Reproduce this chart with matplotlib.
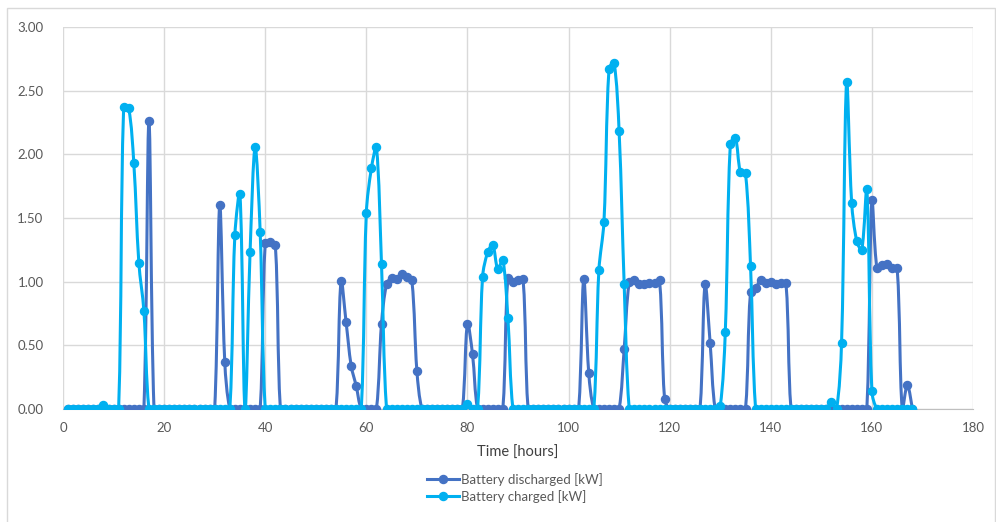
import numpy as np
import matplotlib.pyplot as plt
from matplotlib.path import Path
from matplotlib.patches import PathPatch, Rectangle
from matplotlib.lines import Line2D

plt.rcParams['font.family'] = ['Lato', 'DejaVu Sans']

# hours 1..168
hours = np.arange(1, 169)

# non-zero values, everything else is 0
discharged_nz = {
    17: 2.26,
    31: 1.60, 32: 0.37,
    40: 1.30, 41: 1.31, 42: 1.29,
    55: 1.005, 56: 0.68, 57: 0.34, 58: 0.18,
    63: 0.67, 64: 0.98, 65: 1.03, 66: 1.02, 67: 1.06, 68: 1.04, 69: 1.01, 70: 0.30,
    80: 0.67, 81: 0.43,
    88: 1.03, 89: 1.00, 90: 1.01, 91: 1.02,
    103: 1.02, 104: 0.28,
    111: 0.47, 112: 0.995, 113: 1.01, 114: 0.98, 115: 0.98, 116: 0.99, 117: 0.99, 118: 1.01, 119: 0.076,
    127: 0.98, 128: 0.52,
    136: 0.92, 137: 0.95, 138: 1.01, 139: 0.99, 140: 1.00, 141: 0.98, 142: 0.99, 143: 0.99,
    160: 1.64, 161: 1.105, 162: 1.13, 163: 1.135, 164: 1.105, 165: 1.105,
    167: 0.19,
}
charged_nz = {
    8: 0.03,
    12: 2.37, 13: 2.36, 14: 1.935, 15: 1.15, 16: 0.77,
    34: 1.37, 35: 1.69, 37: 1.23, 38: 2.055, 39: 1.39,
    60: 1.54, 61: 1.89, 62: 2.055, 63: 1.137,
    80: 0.04, 83: 1.04, 84: 1.23, 85: 1.29, 86: 1.10, 87: 1.17, 88: 0.715,
    106: 1.09, 107: 1.47, 108: 2.67, 109: 2.72, 110: 2.18, 111: 0.98,
    130: 0.02, 131: 0.605, 132: 2.08, 133: 2.13, 134: 1.86, 135: 1.85, 136: 1.12,
    152: 0.055, 154: 0.52, 155: 2.57, 156: 1.62, 157: 1.32, 158: 1.25, 159: 1.725, 160: 0.14,
}
discharged = np.array([discharged_nz.get(h, 0.0) for h in hours])
charged = np.array([charged_nz.get(h, 0.0) for h in hours])

c_dis = '#4472C4'
c_chg = '#00B0F0'
ms = 5.8


def smooth_line(ax, x, y, color, lw=2.2, zorder=3, t=1 / 3):
    # excel style smoothed line: bezier through every point, handles scaled
    # by the on-screen segment lengths so short steps don't overshoot
    pts = ax.transData.transform(np.column_stack([x, y]))
    n = len(pts)
    ctrl_in = pts.copy()
    ctrl_out = pts.copy()
    for i in range(1, n - 1):
        d1 = np.hypot(*(pts[i] - pts[i - 1]))
        d2 = np.hypot(*(pts[i + 1] - pts[i]))
        if d1 + d2 == 0:
            continue
        tan = pts[i + 1] - pts[i - 1]
        ctrl_in[i] = pts[i] - tan * t * d1 / (d1 + d2)
        ctrl_out[i] = pts[i] + tan * t * d2 / (d1 + d2)
    verts = [pts[0]]
    codes = [Path.MOVETO]
    for i in range(n - 1):
        verts += [ctrl_out[i], ctrl_in[i + 1], pts[i + 1]]
        codes += [Path.CURVE4] * 3
    verts = ax.transData.inverted().transform(np.array(verts))
    ax.add_patch(PathPatch(Path(verts, codes), fill=False, edgecolor=color,
                           lw=lw, zorder=zorder, capstyle='round', joinstyle='round'))


fig = plt.figure(figsize=(9.96, 5.22), dpi=100)
ax = fig.add_axes([63 / 996, 1 - 409 / 522, 910 / 996, 382 / 522])
ax.set_xlim(0, 180)
ax.set_ylim(0, 3)

smooth_line(ax, hours, discharged, c_dis, zorder=3)
ax.plot(hours, discharged, 'o', color=c_dis, ms=ms, zorder=3.5)
smooth_line(ax, hours, charged, c_chg, zorder=4)
ax.plot(hours, charged, 'o', color=c_chg, ms=ms, zorder=4.5)

ax.set_xticks(np.arange(0, 181, 20))
ax.set_yticks(np.arange(0, 3.01, 0.5))
ax.set_yticklabels([f'{v:.2f}' for v in np.arange(0, 3.01, 0.5)])
ax.grid(True, color='#D9D9D9', lw=1)
ax.set_axisbelow(True)
for s in ['top', 'right', 'left']:
    ax.spines[s].set_visible(False)
ax.spines['bottom'].set_color('#BFBFBF')
ax.spines['bottom'].set_zorder(2)
ax.tick_params(length=0, labelsize=9.5, colors='#595959', pad=9)
ax.tick_params(axis='y', pad=14)
ax.set_xlabel('Time [hours]', fontsize=10.5, color='#404040', labelpad=9)

handles = [
    Line2D([], [], color=c_dis, lw=2.2, marker='o', ms=ms),
    Line2D([], [], color=c_chg, lw=2.2, marker='o', ms=ms),
]
fig.legend(handles, ['Battery discharged [kW]', 'Battery charged [kW]'],
           loc='center', bbox_to_anchor=(515 / 996, 1 - 488 / 522), ncol=1,
           frameon=False, fontsize=9.5, labelcolor='#595959',
           handlelength=2.4, handletextpad=0.2, labelspacing=0.3)

# chart area border
fig.add_artist(Rectangle((7 / 996, -0.05), 988 / 996, 1.05 - 8 / 522,
                         transform=fig.transFigure, fill=False,
                         edgecolor='#D9D9D9', lw=1))

fig.savefig('out.png', dpi=100)
